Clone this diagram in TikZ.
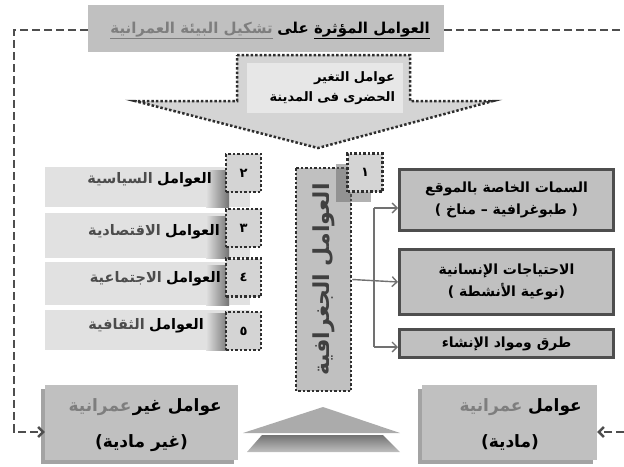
\documentclass[tikz,border=0pt]{standalone}
\usepackage{fontspec}
\usetikzlibrary{arrows.meta,positioning,shadows}
\TeXXeTstate=1
\newfontfamily\arabicfont[Script=Arabic]{DejaVu Sans}
\definecolor{boxgray}{HTML}{C0C0C0}
\definecolor{bargray}{HTML}{E1E1E1}
\definecolor{chevgray}{HTML}{D4D4D4}
\definecolor{dotgray}{HTML}{2E2E2E}
\definecolor{linegray}{HTML}{4E4E4E}
\definecolor{softgray}{HTML}{7E7E7E}
\newcommand{\rl}[1]{\beginR #1\endR}

\begin{document}
\begin{tikzpicture}[x=1pt,y=-1pt,>={Straight Barb[length=5pt,width=10pt]},
    every node/.style={font=\arabicfont\bfseries\fontsize{13}{20}\selectfont, inner sep=0pt},
    txt/.style={anchor=base east},
    dotbox/.style={draw=dotgray, line width=2.5pt, dash pattern=on 2.5pt off 2pt},
    numbox/.style={dotbox, fill=chevgray, minimum width=35pt, minimum height=38pt},
    bar/.style={fill=bargray, minimum width=205pt, anchor=west},
    label/.style={txt, font=\arabicfont\bfseries\fontsize{14.5}{20}\selectfont},
    sidebox/.style={draw=linegray, line width=3pt, fill=boxgray, minimum width=214pt, align=center,
        font=\arabicfont\bfseries\fontsize{14}{22}\selectfont},
    basebox/.style={fill=boxgray, minimum height=75pt,
        drop shadow={shadow xshift=-4pt, shadow yshift=-4pt, fill=black!60, opacity=.6}},
    basetext/.style={txt, font=\arabicfont\bfseries\fontsize{17}{26}\selectfont},
    loopline/.style={draw=linegray, line width=2.5pt, dash pattern=on 8pt off 4pt},
    conn/.style={draw=linegray!80, line width=1.4pt}]

  \useasboundingbox (0,0) rectangle (624,466);

  % title and the dashed return line
  \node[fill=boxgray, minimum width=356pt, minimum height=47pt] (title) at (266,28) {};
  \node[txt, font=\arabicfont\bfseries\fontsize{15}{20}\selectfont] (title1) at (430,33)
    {\rl{\underline{\hbox{\rl{العوامل المؤثرة}}} على}};
  \node[txt, text=softgray, font=\arabicfont\bfseries\fontsize{15}{20}\selectfont] (title2)
    at ([xshift=-4pt]title1.base west) {\underline{\hbox{\rl{تشكيل البيئة العمرانية}}}};

  % urban change arrow
  \path[fill=chevgray, dotbox] (237,55) -- (410,55) -- (410,101) -- (493,101)
    -- (318,148) -- (135,101) -- (237,101) -- cycle;
  \node[fill=bargray!80!white, minimum width=156pt, minimum height=50pt,
        text width=140pt, align=right] (change) at (325,88)
    {\rl{عوامل التغير}\\ \rl{الحضرى فى المدينة}};

  % the other factors
  \node[bar, minimum height=40pt] (b2) at (45,187) {};
  \node[bar, minimum height=45pt] (b3) at (45,235.5) {};
  \node[bar, minimum height=43pt] (b4) at (45,283.5) {};
  \node[bar, minimum height=40pt] (b5) at (45,330) {};
  \shade[left color=bargray, right color=black!55] (206,170) rectangle (229,207);
  \shade[left color=bargray, right color=black!55] (206,216) rectangle (229,258);
  \shade[left color=bargray, right color=black!55] (206,265) rectangle (229,305);
  \shade[left color=bargray, right color=black!55] (206,313) rectangle (229,350);
  \node[numbox] (n2) at (243.5,173) {٢};
  \node[numbox] (n3) at (243.5,228) {٣};
  \node[numbox] (n4) at (243.5,277.5) {٤};
  \node[numbox] (n5) at (243.5,331) {٥};
  \node[label] (l2) at (212,183) {العوامل};
  \node[label] (l3) at (220,235) {العوامل};
  \node[label] (l4) at (221,282) {العوامل};
  \node[label] (l5) at (204,329) {العوامل};
  \node[label, text=black!70] at ([xshift=-4pt]l2.base west) {السياسية};
  \node[label, text=black!70] at ([xshift=-4pt]l3.base west) {الاقتصادية};
  \node[label, text=black!70] at ([xshift=-4pt]l4.base west) {الاجتماعية};
  \node[label, text=black!70] at ([xshift=-4pt]l5.base west) {الثقافية};

  % geographic factors
  \node[dotbox, fill=boxgray, rotate=90, minimum width=223pt, minimum height=55pt,
        text=black!75, font=\arabicfont\bfseries\fontsize{22}{22}\selectfont] (geo)
    at (323.5,279.5) {\rl{العوامل الجغرافية}};
  \node[numbox, drop shadow={shadow xshift=-12pt, shadow yshift=-10pt, fill=black!60, opacity=.5}]
    (n1) at (365,172.5) {١};

  \node[sidebox, minimum height=61pt] (s1) at (506.5,200)
    {\rl{السمات الخاصة بالموقع}\\ \rl{( طبوغرافية – مناخ )}};
  \node[sidebox, minimum height=65pt, below=16pt of s1] (s2)
    {\rl{الاحتياجات الإنسانية}\\ \rl{(نوعية الأنشطة )}};
  \node[sidebox, minimum height=28pt, below=12pt of s2] (s3)
    {\rl{طرق ومواد الإنشاء}};

  \coordinate (t1) at (374,208);
  \coordinate (t3) at (374,347);
  \draw[conn] (t1) -- (t3);
  \draw[conn,->] (geo.south) -- (s2.west);
  \draw[conn,->] (t1) -- (t1 -| s1.west);
  \draw[conn,->] (t3) -- (t3 -| s3.west);

  % material / non-material
  \node[basebox, minimum width=193pt] (nonurb) at (141.5,422.5) {};
  \node[basetext] (nonurb1) at (222,411) {\rl{عوامل غير}};
  \node[basetext, text=softgray] at ([xshift=-1pt]nonurb1.base west) {عمرانية};
  \node[basetext, anchor=base] (nonurb2) at (141.5,447) {\rl{(غير مادية)}};
  \node[basebox, minimum width=175pt] (urb) at (509.5,422.5) {};
  \node[basetext] (urb1) at (582,411) {عوامل};
  \node[basetext, text=softgray] at ([xshift=-5pt]urb1.base west) {عمرانية};
  \node[basetext, anchor=base] (urb2) at (510,447) {\rl{(مادية)}};
  \shade[top color=black!55, bottom color=black!25] (262,435) -- (383,435) -- (400,452) -- (247,452) -- cycle;
  \fill[black!33] (323,407) -- (400,433) -- (243,433) -- cycle;

  \coordinate (lb) at (14,432);
  \coordinate (rt) at (624,30);
  \coordinate (rb) at (624,432);
  \draw[loopline,->] (title.west |- 0,30) -| (lb) -- (lb -| nonurb.west);
  \draw[loopline] (title.east |- rt) -- (rt);
  \draw[loopline,->] (rb) -- (rb -| urb.east);

\end{tikzpicture}
\end{document}
